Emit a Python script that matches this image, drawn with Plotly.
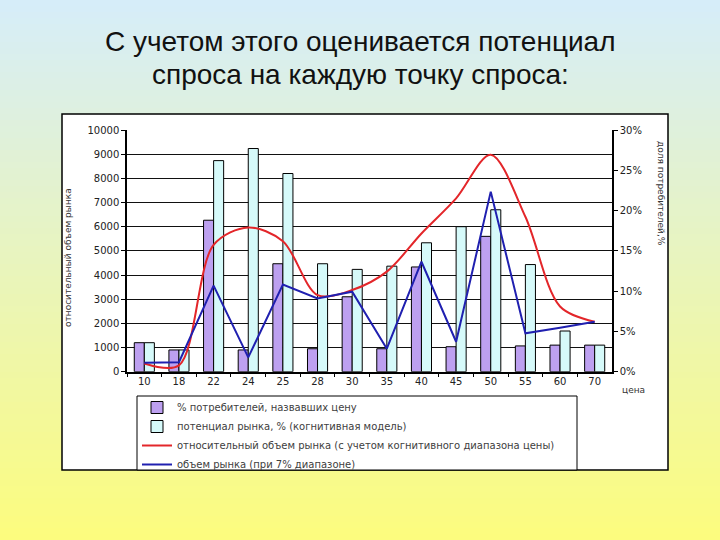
import plotly.graph_objects as go

# price points (categories on the x axis)
prices = ['10', '18', '22', '24', '25', '28', '30', '35', '40', '45', '50', '55', '60', '70']

# bars, % (right axis)
named_pct = [3.6, 2.7, 18.8, 2.7, 13.4, 2.85, 9.3, 2.85, 13.0, 3.1, 16.8, 3.2, 3.3, 3.3]
potential_pct = [3.6, 2.7, 26.2, 27.7, 24.6, 13.4, 12.7, 13.1, 16.0, 18.0, 20.1, 13.3, 5.05, 3.3]

# lines, relative market volume (left axis)
rel_volume = [340, 260, 5250, 5970, 5400, 3170, 3380, 4140, 5720, 7170, 8980, 6410, 2700, 2070]
volume_7pct = [370, 390, 3560, 590, 3610, 3030, 3310, 950, 4550, 1240, 7450, 1590, 1820, 2070]

left_ticks = list(range(0, 10001, 1000))
right_ticks = [0, 5, 10, 15, 20, 25, 30]

W, H = 720, 540


def px(x):
    return x / W


def py(y):
    return 1 - y / H


fig = go.Figure()
fig.add_trace(go.Bar(
    x=prices, y=named_pct, name='% потребителей, назвавших цену',
    marker=dict(color='#BDA0F0', line=dict(color='black', width=1)),
    yaxis='y'
))
fig.add_trace(go.Bar(
    x=prices, y=potential_pct, name='потенциал рынка, % (когнитивная модель)',
    marker=dict(color='#D6FAFA', line=dict(color='black', width=1)),
    yaxis='y'
))
fig.add_trace(go.Scatter(
    x=prices, y=rel_volume, mode='lines',
    name='относительный объем рынка (с учетом когнитивного диапазона цены)',
    line=dict(color='#E3262A', width=2, shape='spline', smoothing=0.9),
    yaxis='y2'
))
fig.add_trace(go.Scatter(
    x=prices, y=volume_7pct, mode='lines',
    name='объем рынка (при 7% диапазоне)',
    line=dict(color='#2020B0', width=2),
    yaxis='y2'
))

# background gradient (light blue -> yellow) as thin bands
top_c = (214, 237, 249)
bot_c = (252, 252, 126)
shapes = []
n = 90
for i in range(n):
    t = i / (n - 1)
    c = tuple(int(round(top_c[k] + (bot_c[k] - top_c[k]) * t)) for k in range(3))
    shapes.append(dict(
        type='rect', xref='paper', yref='paper', layer='below',
        x0=0, x1=1, y0=1 - (i + 1) / n - 0.002, y1=1 - i / n,
        fillcolor='rgb(%d,%d,%d)' % c, line=dict(width=0)
    ))
# white chart box
shapes.append(dict(
    type='rect', xref='paper', yref='paper', layer='below',
    x0=px(62), x1=px(668), y0=py(470), y1=py(114),
    fillcolor='white', line=dict(color='black', width=1.5)
))
# legend frame (cut by the bottom of the chart box)
shapes.append(dict(
    type='rect', xref='paper', yref='paper', layer='below',
    x0=px(137), x1=px(577), y0=py(470), y1=py(396),
    fillcolor='white', line=dict(color='black', width=1)
))

small = 'DejaVu Sans'
tick_font = dict(family=small, size=10, color='#222222')


def note(text, x, y, size=9, angle=0, xanchor='center', fam=small, color='#333333'):
    return dict(text=text, x=px(x), y=py(y), xref='paper', yref='paper',
                showarrow=False, textangle=angle, xanchor=xanchor, yanchor='middle',
                font=dict(family=fam, size=size, color=color))


fig.update_layout(
    width=W, height=H,
    margin=dict(l=0, r=0, t=0, b=0, autoexpand=False),
    paper_bgcolor='white',
    plot_bgcolor='rgba(0,0,0,0)',
    shapes=shapes,
    barmode='group', bargap=0.42, bargroupgap=0.0,
    font=dict(family=small, color='#222222'),
    xaxis=dict(
        domain=[px(127), px(612)],
        type='category',
        showline=True, linecolor='black', linewidth=1.5,
        ticks='outside', ticklen=4, tickcolor='black', tickson='boundaries',
        tickfont=tick_font, showgrid=False,
        anchor='y2'
    ),
    yaxis=dict(
        domain=[py(371.7), py(130)],
        range=[0, 30], side='right', anchor='x',
        tickvals=right_ticks, ticktext=['%d%%' % v for v in right_ticks],
        showline=True, linecolor='black', linewidth=1.5,
        ticks='outside', ticklen=4, tickcolor='black',
        tickfont=tick_font, showgrid=False, zeroline=False
    ),
    yaxis2=dict(
        overlaying='y', side='left', anchor='x',
        range=[0, 10000], tickvals=left_ticks,
        ticktext=[str(v) for v in left_ticks],
        showline=True, linecolor='black', linewidth=1.5,
        ticks='outside', ticklen=4, tickcolor='black',
        tickfont=tick_font,
        showgrid=True, gridcolor='#111111', gridwidth=1.3, zeroline=False
    ),
    legend=dict(
        x=px(137), y=py(393), xanchor='left', yanchor='top',
        bgcolor='rgba(0,0,0,0)', borderwidth=0,
        font=dict(family=small, size=10, color='#404040'),
        traceorder='normal', tracegroupgap=0
    ),
    annotations=[
        note('С учетом этого оценивается потенциал', 360, 42, size=28,
             fam='Arial', color='#111111'),
        note('спроса на каждую точку спроса:', 360, 75, size=28,
             fam='Arial', color='#111111'),
        note('относительный объем рынка', 68, 258, angle=-90),
        note('доля потребителей,%', 661, 193, angle=90),
        note('цена', 620, 390, xanchor='left'),
    ]
)

fig.write_html('out.html', config={'displayModeBar': False},
               post_script="document.body.style.margin='0';")
